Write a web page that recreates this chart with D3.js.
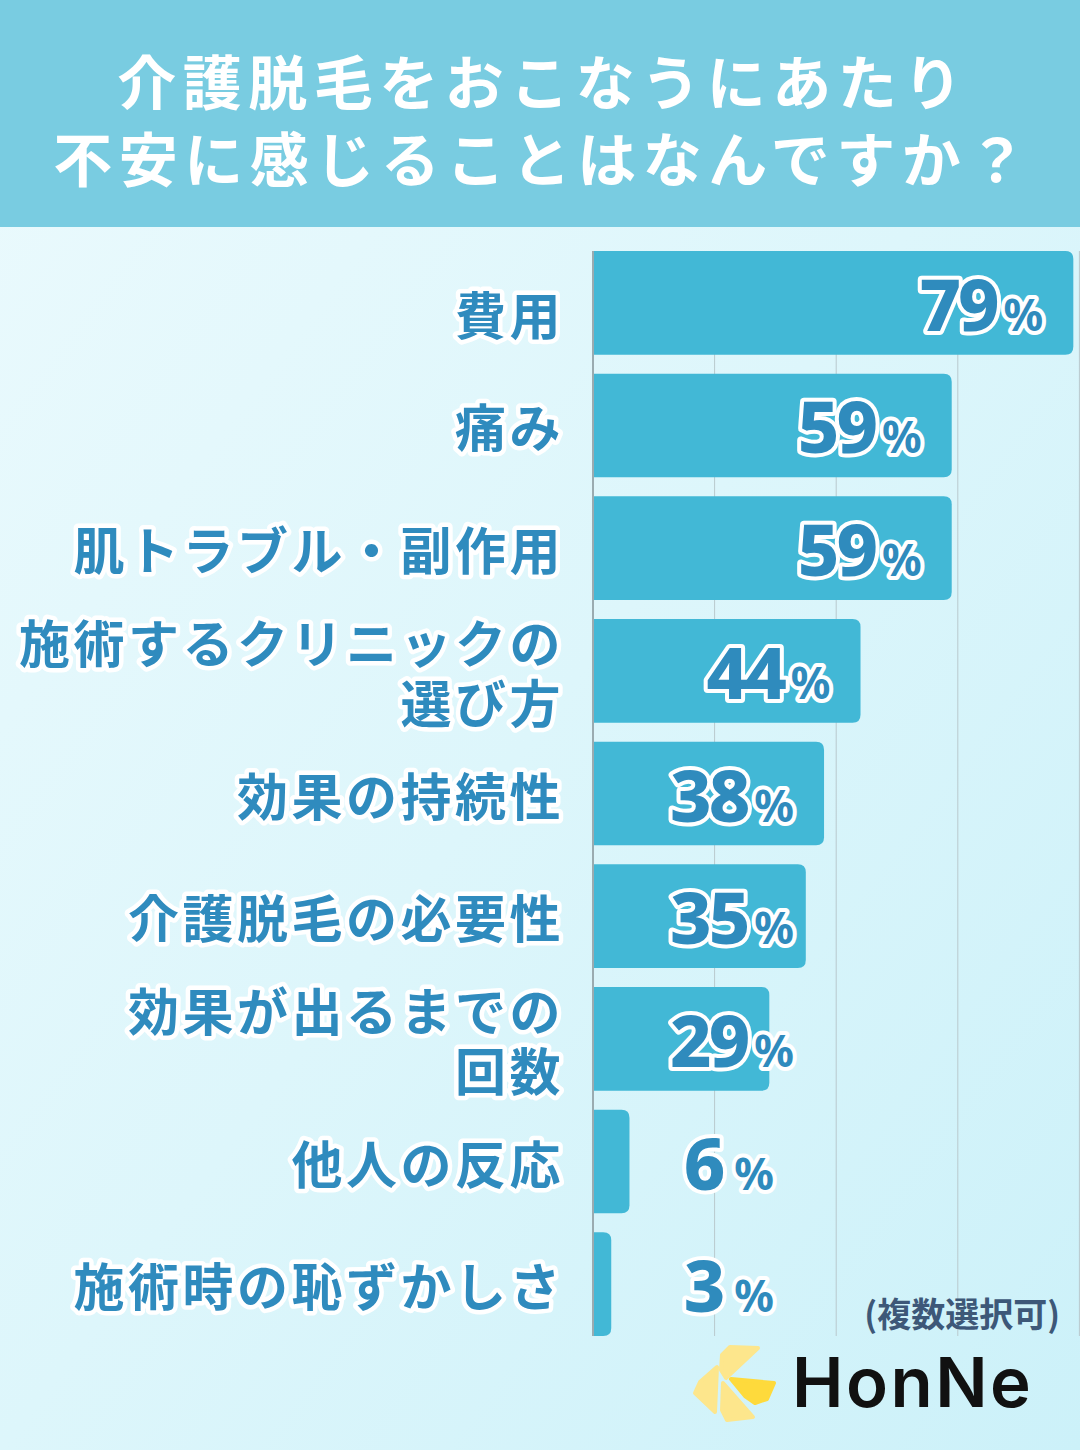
<!DOCTYPE html>
<html><head><meta charset="utf-8">
<script src="https://cdn.jsdelivr.net/npm/d3@7"></script>
<style>
html,body{margin:0;padding:0;background:#fff;}
svg{display:block;}
</style></head>
<body>
<div id="chart"></div>
<script>
// ---- data ----
const titleLines = ["介護脱毛をおこなうにあたり", "不安に感じることはなんですか？"];
const categories = ["費用", "痛み", "肌トラブル・副作用", "施術するクリニックの\n選び方", "効果の持続性", "介護脱毛の必要性", "効果が出るまでの\n回数", "他人の反応", "施術時の恥ずかしさ"];
const values = [79, 59, 59, 44, 38, 35, 29, 6, 3];
const gridTicks = [20, 40, 60, 80];
const noteText = "(複数選択可)";
const brandText = "HonNe";

// ---- layout ----
const W = 1080, H = 1450;
const svg = d3.select("#chart").append("svg").attr("width", W).attr("height", H);
const defs = svg.append("defs");
const bg = defs.append("linearGradient").attr("id", "bg").attr("x1", "0").attr("y1", "0").attr("x2", "1").attr("y2", "1");
bg.append("stop").attr("offset", "0").attr("stop-color", "#EBFAFD");
bg.append("stop").attr("offset", "0.5").attr("stop-color", "#DDF6FB");
bg.append("stop").attr("offset", "1").attr("stop-color", "#CCF1F9");

svg.append("rect").attr("width", W).attr("height", H).attr("fill", "url(#bg)");
svg.append("rect").attr("width", W).attr("height", 227).attr("fill", "#79CCE1");

svg.append("g").selectAll("text").data(titleLines).join("text")
  .attr("x", 540 + 3).attr("y", (d, i) => 79 + i * 77)
  .attr("text-anchor", "middle").attr("dominant-baseline", "central")
  .attr("font-family", "'Noto Sans CJK JP', sans-serif").attr("font-weight", 700)
  .attr("font-size", 59).attr("letter-spacing", 6.5).attr("fill", "#fff")
  .text(d => d);

const x0 = 593;
const x = d3.scaleLinear().domain([0, 80]).range([x0, x0 + 80 * 6.08]);
const y = d3.scaleBand().domain(categories).range([251, 1336]).paddingInner(0.155).paddingOuter(0);

// grid lines
svg.append("g").selectAll("line").data(gridTicks).join("line")
  .attr("x1", d => x(d)).attr("x2", d => x(d))
  .attr("y1", 251).attr("y2", 1336)
  .attr("stroke", "#B9C9CD").attr("stroke-width", 1);

// bars (rounded right corners)
const r = 8;
svg.append("g").selectAll("path").data(values).join("path")
  .attr("d", (d, i) => {
    const yt = y(categories[i]), h = y.bandwidth(), xs = x(0), xe = x(d);
    const rr = Math.min(r, (xe - xs) / 2);
    return `M${xs},${yt}H${xe - rr}Q${xe},${yt} ${xe},${yt + rr}V${yt + h - rr}Q${xe},${yt + h} ${xe - rr},${yt + h}H${xs}Z`;
  })
  .attr("fill", "#42B8D6");

// axis line
svg.append("line").attr("x1", x0).attr("x2", x0).attr("y1", 251).attr("y2", 1336)
  .attr("stroke", "#9AABB0").attr("stroke-width", 2);

// category labels (each line its own text)
const catG = svg.append("g");
categories.forEach((c, i) => {
  const lines = c.split("\n");
  const cy = y(c) + y.bandwidth() / 2 + (i === 0 ? 10 : 0);
  const lh = 60;
  lines.forEach((ln, j) => {
    catG.append("text")
      .attr("x", 564)
      .attr("y", cy + (j - (lines.length - 1) / 2) * lh)
      .attr("dominant-baseline", "central")
      .attr("text-anchor", "end")
      .attr("font-family", "'Noto Sans CJK JP', sans-serif").attr("font-weight", 700)
      .attr("font-size", 51).attr("letter-spacing", 3.5)
      .attr("fill", "#2F8BBE").attr("stroke", "#fff").attr("stroke-width", 9)
      .attr("stroke-linejoin", "round").attr("paint-order", "stroke")
      .text(ln);
  });
});

// value labels
const valG = svg.append("g");
values.forEach((v, i) => {
  const cy = y(categories[i]) + y.bandwidth() / 2;
  const xe = v < 10 ? 774 : Math.max(x(v) - 30, 794);
  const t = valG.append("text")
    .attr("x", xe).attr("y", cy + 28)
    .attr("text-anchor", "end")
    .attr("font-family", "'Noto Sans', sans-serif").attr("font-weight", 800)
    .attr("fill", "#2F8BBD").attr("stroke", "#fff").attr("stroke-width", 8)
    .attr("stroke-linejoin", "round").attr("paint-order", "stroke");
  t.append("tspan").attr("font-size", 72).attr("letter-spacing", -3).text(String(v));
  t.append("tspan").attr("font-size", 44).attr("font-weight", 700).attr("dx", v < 10 ? 12 : 7).text("%");
});

// note
svg.append("text").attr("x", 1060).attr("y", 1327).attr("text-anchor", "end")
  .attr("font-family", "'Noto Sans CJK JP', sans-serif").attr("font-weight", 700)
  .attr("font-size", 34).attr("fill", "#3D5878").text(noteText);

// logo
const logo = svg.append("g").attr("stroke-linejoin", "round");
const petals = [
  {pts: [[722, 1355], [730, 1347], [758, 1348], [726, 1378], [721, 1370]], c: "#FDE68C"},
  {pts: [[717, 1367], [715, 1412], [695, 1393], [700, 1382]], c: "#FDE68C"},
  {pts: [[723, 1383], [753, 1417], [727, 1420], [722, 1410]], c: "#FDE68C"},
  {pts: [[731, 1379], [774, 1383], [767, 1399], [755, 1403], [745, 1396]], c: "#FEDA3C"}
];
logo.selectAll("path").data(petals).join("path")
  .attr("d", d => "M" + d.pts.map(p => p.join(",")).join("L") + "Z")
  .attr("fill", d => d.c).attr("stroke", d => d.c).attr("stroke-width", 4);
svg.append("text").attr("x", 792).attr("y", 1407)
  .attr("font-family", "Inter, sans-serif").attr("font-weight", 600)
  .attr("font-size", 69).attr("letter-spacing", 2.5).attr("fill", "#111").text(brandText);
</script>
</body></html>
